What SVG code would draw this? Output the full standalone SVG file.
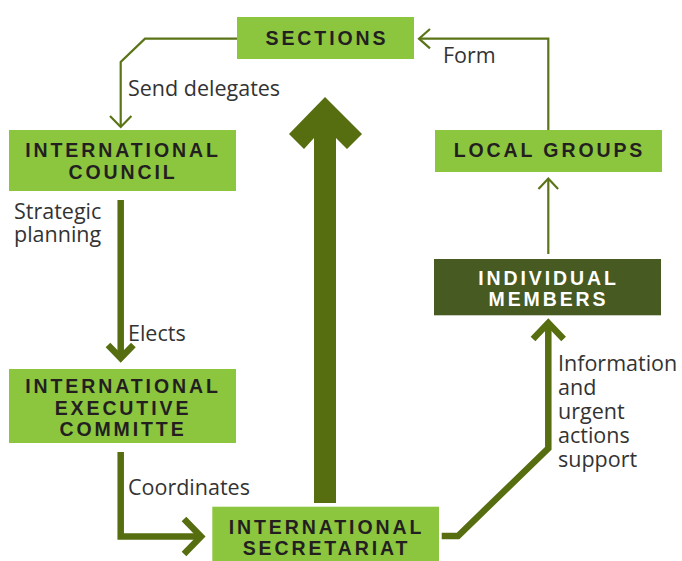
<svg xmlns="http://www.w3.org/2000/svg" width="682" height="561" viewBox="0 0 682 561">
<style>
.box{fill:#8cc63f}
.dark{fill:#465a22}
.t{font-family:"Liberation Sans",Arial,sans-serif;font-weight:bold;font-size:19.5px;letter-spacing:2.9px;fill:#231f20;text-anchor:middle}
.tw{fill:#ffffff}
.lbl{font-family:"Open Sans","Noto Sans",sans-serif;font-size:21.5px;fill:#333333}
.thin{fill:none;stroke:#5a7417;stroke-width:2.2}
.thick{fill:none;stroke:#566d10;stroke-width:6.5}
</style>
<rect width="682" height="561" fill="#ffffff"/>
<g id="connectors">
  <polyline class="thin" points="237,38.7 145,38.7 120.7,62 120.7,126"/>
  <polyline class="thin" points="110,116 120.7,127 131.4,116"/>
  <polyline class="thin" points="548.3,130 548.3,38.7 420,38.7"/>
  <polyline class="thin" points="430,29 419,38.7 430,48.4"/>
  <line class="thin" x1="548.3" y1="254" x2="548.3" y2="179"/>
  <polyline class="thin" points="538.5,189 548.3,178.5 558.1,189"/>
  <line class="thick" x1="120.7" y1="200" x2="120.7" y2="357"/>
  <polyline class="thick" points="108,345 120.7,358 133.4,345"/>
  <polyline class="thick" points="120.7,452 120.7,536.5 199,536.5"/>
  <polyline class="thick" points="184,519 201,536.5 184,554"/>
  <polyline class="thick" points="441.7,536 458,536 548.3,448.3 548.3,323"/>
  <polyline class="thick" points="533,339 548.3,323 563.6,339"/>
  <polygon fill="#566d10" points="325,97 362,134 347,149 336,138 336,503 314,503 314,138 304,149 289,134"/>
</g>
<g id="sections">
  <rect class="box" x="237" y="17" width="177" height="42"/>
  <text class="t" x="327" y="45">SECTIONS</text>
</g>
<g id="international-council">
  <rect class="box" x="9" y="130" width="227" height="61"/>
  <text class="t" x="123" y="157">INTERNATIONAL</text>
  <text class="t" x="123" y="179">COUNCIL</text>
</g>
<g id="international-executive-committe">
  <rect class="box" x="9" y="369" width="227" height="74"/>
  <text class="t" x="123" y="393">INTERNATIONAL</text>
  <text class="t" x="123" y="414.5">EXECUTIVE</text>
  <text class="t" x="123" y="436">COMMITTE</text>
</g>
<g id="international-secretariat">
  <rect class="box" x="212.3" y="506.7" width="226.7" height="54.3"/>
  <text class="t" x="326.5" y="534">INTERNATIONAL</text>
  <text class="t" x="326.5" y="554.5">SECRETARIAT</text>
</g>
<g id="local-groups">
  <rect class="box" x="435" y="130" width="227" height="42"/>
  <text class="t" x="549.5" y="157">LOCAL GROUPS</text>
</g>
<g id="individual-members">
  <rect class="dark" x="434" y="259" width="227" height="56.3"/>
  <text class="t tw" x="548.5" y="285">INDIVIDUAL</text>
  <text class="t tw" x="548.5" y="306">MEMBERS</text>
</g>
<g id="labels">
  <text class="lbl" x="128" y="96">Send delegates</text>
  <text class="lbl" x="443" y="63">Form</text>
  <text class="lbl" x="14" y="219">Strategic</text>
  <text class="lbl" x="14" y="242">planning</text>
  <text class="lbl" x="128" y="340.5">Elects</text>
  <text class="lbl" x="128" y="495">Coordinates</text>
  <text class="lbl" x="558" y="371">Information</text>
  <text class="lbl" x="558" y="395">and</text>
  <text class="lbl" x="558" y="419">urgent</text>
  <text class="lbl" x="558" y="443">actions</text>
  <text class="lbl" x="558" y="467">support</text>
</g>
</svg>
